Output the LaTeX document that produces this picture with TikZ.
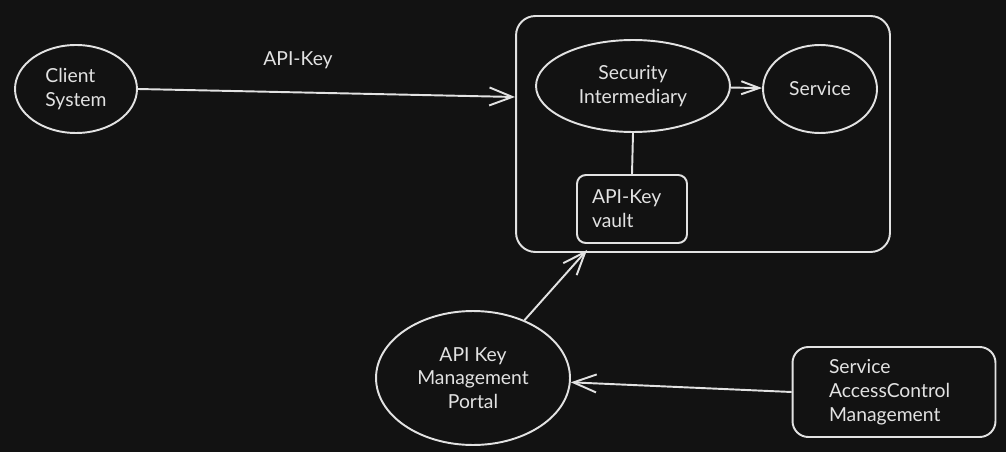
\documentclass[tikz,border=0pt]{standalone}
\usepackage{fontspec}
\setmainfont{Lato}
\usetikzlibrary{arrows.meta, shapes.geometric}
\definecolor{canvas}{HTML}{121212}
\definecolor{chalk}{HTML}{E2E2E2}

\begin{document}
\begin{tikzpicture}[
  x=0.02cm, y=-0.02cm,
  oval/.style={draw=chalk, ellipse, line width=1.1pt, inner sep=0pt,
               text=chalk, font=\fontsize{11}{13.5}\selectfont, align=center},
  card/.style={draw=chalk, line width=1.1pt, inner sep=0pt,
               text=chalk, font=\fontsize{11}{13.5}\selectfont, align=left},
  link/.style={draw=chalk, line width=1.1pt},
  >={Straight Barb[length=4.6mm,width=3.6mm]}
]
  \fill[canvas] (0,0) rectangle (1006,452);
  \useasboundingbox (0,0) rectangle (1006,452);

  \node[card, rounded corners=11pt, minimum width=7.48cm, minimum height=4.72cm] (platform) at (703,134) {};

  \node[oval, align=left, minimum width=2.44cm, minimum height=1.76cm] (client)  at (76,89)   {Client\\System};
  \node[oval, minimum width=3.88cm, minimum height=1.84cm] (inter)   at (633,86)  {Security\\Intermediary};
  \node[oval, minimum width=2.28cm, minimum height=1.76cm] (service) at (820,89)  {Service};
  \node[card, rounded corners=5pt, minimum width=2.2cm, minimum height=1.36cm, text width=1.6cm] (vault) at (632,209) {API-Key\\vault};
  \node[oval, minimum width=3.88cm, minimum height=2.68cm] (portal)  at (473,378) {API Key\\Management\\Portal};
  \node[card, rounded corners=9pt, minimum width=4.06cm, minimum height=1.8cm, text width=2.6cm] (access) at (894,392) {Service\\AccessControl\\Management};

  \coordinate (entry) at (515,97);
  \coordinate (tip)   at (587,250);

  \draw[link, ->] (client.east) -- (entry);
  \node[text=chalk, font=\fontsize{11}{13.5}\selectfont] (keylabel) at (298,60) {API-Key};
  \draw[link, -{Straight Barb[length=3.6mm,width=2.6mm]}] (inter) -- (service);
  \draw[link] (inter.south) -- (vault.north);
  \draw[link, ->] (portal) -- (tip);
  \draw[link, ->] (access.west) -- (portal);
\end{tikzpicture}
\end{document}
